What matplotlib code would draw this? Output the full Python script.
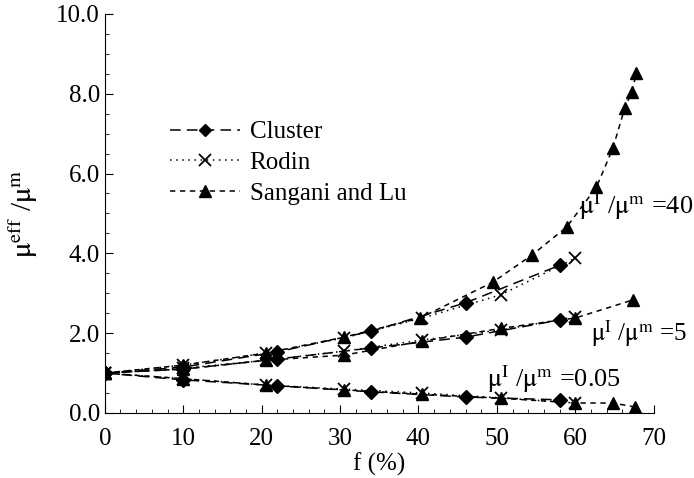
import matplotlib
matplotlib.use("Agg")
import matplotlib.pyplot as plt
from matplotlib.ticker import MultipleLocator, FormatStrFormatter

plt.rcParams['font.family'] = ['Liberation Serif', 'DejaVu Serif']
plt.rcParams['mathtext.fontset'] = 'stix'

# cluster model (three modulus ratios)
f_cluster = [0, 10, 22, 34, 46, 58]
cluster_40 = [1.0, 1.15, 1.53, 2.05, 2.76, 3.7]
cluster_5 = [1.0, 1.1, 1.35, 1.63, 1.9, 2.33]
cluster_005 = [1.0, 0.83, 0.68, 0.53, 0.4, 0.33]

# Rodin
f_rodin = [0, 10, 20.5, 30.5, 40.5, 50.5, 60]
rodin_40 = [1.0, 1.2, 1.5, 1.88, 2.38, 2.96, 3.88]
rodin_5 = [1.0, 1.12, 1.32, 1.55, 1.83, 2.08, 2.41]
rodin_005 = [1.0, 0.86, 0.7, 0.6, 0.5, 0.38, 0.25]

# Sangani and Lu
f_sl_40 = [0, 10, 20.5, 30.5, 40.2, 49.5, 54.5, 58.9, 62.7, 64.8, 66.3, 67.2, 67.8]
sl_40 = [1.0, 1.2, 1.5, 1.9, 2.38, 3.28, 3.96, 4.66, 5.66, 6.64, 7.64, 8.05, 8.52]
f_sl_5 = [0, 10, 20.5, 30.5, 40.5, 50.5, 60, 67.3]
sl_5 = [1.0, 1.1, 1.32, 1.45, 1.8, 2.12, 2.38, 2.83]
f_sl_005 = [0, 10, 20.5, 30.5, 40.5, 50.5, 60, 64.8, 67.6]
sl_005 = [1.0, 0.86, 0.7, 0.58, 0.47, 0.37, 0.25, 0.25, 0.15]

fig = plt.figure(figsize=(6.94, 4.78), dpi=100)
ax = fig.add_axes([0.151, 0.136, 0.791, 0.835])

ms = 8
kw_c = dict(color='black', linestyle=(0, (7, 4)), linewidth=1.1, marker='D', markersize=ms * 0.85)
kw_r = dict(color='black', linestyle=(0, (1, 3)), linewidth=1.1, marker='x', markersize=ms + 1, markeredgewidth=1.3)
kw_s = dict(color='black', linestyle=(0, (3.5, 3)), linewidth=1.1, marker='^', markersize=ms + 1)

ax.plot(f_cluster, cluster_40, label='Cluster', **kw_c)
ax.plot(f_rodin, rodin_40, label='Rodin', **kw_r)
ax.plot(f_sl_40, sl_40, label='Sangani and Lu', **kw_s)
for y in (cluster_5, cluster_005):
    ax.plot(f_cluster, y, **kw_c)
for y in (rodin_5, rodin_005):
    ax.plot(f_rodin, y, **kw_r)
ax.plot(f_sl_5, sl_5, **kw_s)
ax.plot(f_sl_005, sl_005, **kw_s)

ax.set_xlim(0, 70)
ax.set_ylim(0, 10)
ax.spines['top'].set_visible(False)
ax.spines['right'].set_visible(False)
ax.xaxis.set_major_locator(MultipleLocator(10))
ax.xaxis.set_minor_locator(MultipleLocator(2))
ax.yaxis.set_major_locator(MultipleLocator(2))
ax.yaxis.set_minor_locator(MultipleLocator(0.5))
ax.yaxis.set_major_formatter(FormatStrFormatter('%.1f'))
ax.tick_params(which='major', direction='in', length=6, labelsize=18)
ax.tick_params(axis='x', which='major', pad=11)
ax.tick_params(which='minor', direction='in', length=3)

ax.set_xlabel('f (%)', fontsize=18, labelpad=2)
ax.set_ylabel(r'$\mathrm{\mu}^{\mathrm{eff}}$ /$\mathrm{\mu}^{\mathrm{m}}$', fontsize=21, labelpad=12)

ax.legend(loc='upper left', bbox_to_anchor=(0.118, 0.732), frameon=False, fontsize=18,
          borderpad=0, borderaxespad=0, handlelength=2.8, labelspacing=0.33,
          handletextpad=0.4, markerscale=0.9)

ax.text(60.5, 5.0, r'$\mathrm{\mu}^{\mathrm{I}}$ /$\mathrm{\mu}^{\mathrm{m}}$ =40', fontsize=19)
ax.text(62.0, 1.8, r'$\mathrm{\mu}^{\mathrm{I}}$ /$\mathrm{\mu}^{\mathrm{m}}$ =5', fontsize=18)
ax.text(48.8, 0.65, r'$\mathrm{\mu}^{\mathrm{I}}$ /$\mathrm{\mu}^{\mathrm{m}}$ =0.05', fontsize=19)

fig.savefig('out.png', dpi=100)
